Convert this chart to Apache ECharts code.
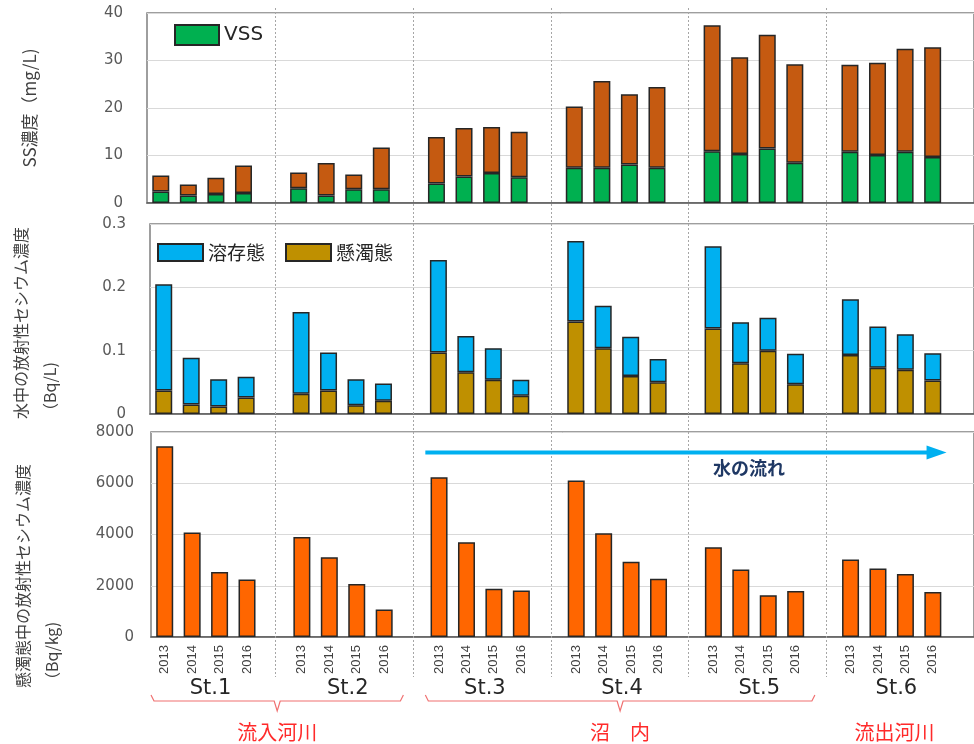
<!DOCTYPE html>
<html>
<head>
<meta charset="utf-8">
<script src="https://cdn.jsdelivr.net/npm/echarts@6/dist/echarts.min.js"></script>
<style>
html, body { margin: 0; padding: 0; background: #fff; }
#chart { width: 974px; height: 744px; }
</style>
</head>
<body>
<div id="chart"></div>
<script>
const STATIONS = ['St.1', 'St.2', 'St.3', 'St.4', 'St.5', 'St.6'];
const YEARS = ['2013', '2014', '2015', '2016'];

// SS濃度 (mg/L): 全体 と VSS
const SS_TOTAL = [
    [5.8, 3.9, 5.3, 7.9],
    [6.4, 8.4, 6.0, 11.7],
    [13.9, 15.8, 16.0, 15.0],
    [20.3, 25.7, 22.9, 24.4],
    [37.4, 30.7, 35.4, 29.2],
    [29.1, 29.5, 32.5, 32.8]
];
const VSS = [
    [2.4, 1.6, 1.9, 2.1],
    [3.1, 1.6, 2.9, 2.9],
    [4.1, 5.6, 6.3, 5.4],
    [7.4, 7.4, 8.1, 7.4],
    [10.9, 10.3, 11.5, 8.5],
    [10.8, 10.1, 10.8, 9.7]
];

// 水中の放射性セシウム濃度 (Bq/L): 合計 と 懸濁態
const WATER_TOTAL = [
    [0.205, 0.089, 0.055, 0.059],
    [0.161, 0.097, 0.055, 0.048],
    [0.243, 0.123, 0.104, 0.054],
    [0.273, 0.171, 0.122, 0.087],
    [0.265, 0.145, 0.152, 0.095],
    [0.181, 0.138, 0.126, 0.096]
];
const WATER_SUSP = [
    [0.037, 0.015, 0.012, 0.026],
    [0.032, 0.037, 0.014, 0.021],
    [0.097, 0.066, 0.054, 0.029],
    [0.146, 0.104, 0.060, 0.050],
    [0.135, 0.080, 0.100, 0.047],
    [0.093, 0.073, 0.070, 0.053]
];

// 懸濁態中の放射性セシウム濃度 (Bq/kg)
const SUSP_CS = [
    [7440, 4080, 2540, 2240],
    [3900, 3110, 2070, 1070],
    [6230, 3700, 1880, 1810],
    [6110, 4050, 2940, 2270],
    [3500, 2630, 1630, 1800],
    [3020, 2670, 2460, 1760]
];

const REGIONS = ['流入河川', '沼　内', '流出河川'];
const REGION_STATIONS = [[0, 1], [2, 4], [5, 5]];

// 4年 + 空き1枠 を1測点として並べる
const flatten = (rows) => {
    let out = [];
    rows.forEach((r) => { out = out.concat(r, ['-']); });
    return out;
};
const yearCats = flatten(STATIONS.map(() => YEARS)).map((v) => (v === '-' ? '' : v));
const ssRest = SS_TOTAL.map((r, i) => r.map((v, j) => +(v - VSS[i][j]).toFixed(2)));
const waterDiss = WATER_TOTAL.map((r, i) => r.map((v, j) => +(v - WATER_SUSP[i][j]).toFixed(3)));

const TICK_FONT = { fontFamily: 'DejaVu Sans', fontSize: 15, color: '#595959' };
const CJK = 'Noto Sans CJK JP';
const BAR_BORDER = { borderColor: '#262626', borderWidth: 1.5 };

const grids = [
    { left: 147, right: -1, top: 13, height: 190 },
    { left: 150, right: -3, top: 224, height: 190 },
    { left: 151, right: -8, top: 432, height: 205 }
].map((g) => Object.assign(g, { show: true, borderColor: '#7f7f7f', borderWidth: 1.5 }));

const baseX = (gridIndex) => ({
    type: 'category',
    gridIndex: gridIndex,
    data: yearCats,
    axisLine: { lineStyle: { color: '#595959', width: 1.5 } },
    axisTick: { show: false },
    axisLabel: { show: false }
});

const baseY = (gridIndex, max, interval, margin) => ({
    type: 'value',
    gridIndex: gridIndex,
    min: 0,
    max: max,
    interval: interval,
    axisLine: { show: false },
    axisTick: { show: false },
    splitLine: { lineStyle: { color: '#d9d9d9', width: 1 } },
    axisLabel: Object.assign({ margin: margin, formatter: (v) => String(v) }, TICK_FONT)
});

const bottomX = baseX(2);
bottomX.axisLabel = {
    show: true, interval: 0, rotate: 90, margin: 8,
    fontFamily: 'Liberation Sans', fontSize: 13, color: '#404040'
};

const option = {
    animation: false,
    backgroundColor: '#fff',
    grid: grids,
    legend: [
        {
            data: ['VSS'], left: 174, top: 24, padding: 0, icon: 'rect',
            itemWidth: 44, itemHeight: 20, selectedMode: false,
            textStyle: { fontFamily: 'DejaVu Sans', fontSize: 20, color: '#262626' }
        },
        {
            data: ['溶存態', '懸濁態'], left: 157, top: 243, padding: 0, icon: 'rect',
            itemWidth: 45, itemHeight: 17, itemGap: 20, selectedMode: false,
            textStyle: { fontFamily: CJK, fontSize: 19, color: '#262626' }
        }
    ],
    xAxis: [
        baseX(0),
        baseX(1),
        bottomX,
        {
            type: 'category', gridIndex: 2, data: STATIONS, position: 'bottom', offset: 36,
            axisLine: { show: false }, axisTick: { show: false },
            axisLabel: { margin: 5, fontFamily: 'DejaVu Sans', fontSize: 21, color: '#262626', padding: [0, 18, 0, 0] }
        }
    ],
    yAxis: [
        baseY(0, 40, 10, 24),
        baseY(1, 0.3, 0.1, 24),
        baseY(2, 8000, 2000, 17)
    ],
    series: [
        {
            name: 'VSS', type: 'bar', stack: 'ss', xAxisIndex: 0, yAxisIndex: 0, barWidth: 17,
            itemStyle: Object.assign({ color: '#00b050' }, BAR_BORDER), data: flatten(VSS)
        },
        {
            name: 'SS', type: 'bar', stack: 'ss', xAxisIndex: 0, yAxisIndex: 0, barWidth: 17,
            itemStyle: Object.assign({ color: '#c55a11' }, BAR_BORDER), data: flatten(ssRest)
        },
        {
            name: '懸濁態', type: 'bar', stack: 'w', xAxisIndex: 1, yAxisIndex: 1, barWidth: 17,
            itemStyle: Object.assign({ color: '#bf9000' }, BAR_BORDER), data: flatten(WATER_SUSP)
        },
        {
            name: '溶存態', type: 'bar', stack: 'w', xAxisIndex: 1, yAxisIndex: 1, barWidth: 17,
            itemStyle: Object.assign({ color: '#00b0f0' }, BAR_BORDER), data: flatten(waterDiss)
        },
        {
            name: '懸濁態中', type: 'bar', xAxisIndex: 2, yAxisIndex: 2, barWidth: 17,
            itemStyle: Object.assign({ color: '#ff6600' }, BAR_BORDER), data: flatten(SUSP_CS)
        }
    ]
};

const chart = echarts.init(document.getElementById('chart'));
chart.setOption(option);

// 枠位置 (カテゴリ枠単位) からピクセルへ
const slotX = (axisIndex, s) => {
    const c0 = chart.convertToPixel({ xAxisIndex: axisIndex }, 0);
    const c1 = chart.convertToPixel({ xAxisIndex: axisIndex }, 1);
    const step = c1 - c0;
    return c0 - step / 2 + s * step;
};
const valY = (axisIndex, v) => chart.convertToPixel({ yAxisIndex: axisIndex }, v);

const graphics = [];

// 測点の区切り (点線)
for (let i = 1; i < STATIONS.length; i++) {
    const x = Math.round(slotX(0, i * 5 - 0.36)) + 0.5;
    graphics.push({
        type: 'line', z: 1, silent: true,
        shape: { x1: x, y1: 8, x2: x, y2: 677 },
        style: { stroke: '#a6a6a6', lineWidth: 1, lineDash: [2, 2] }
    });
}

// 縦軸タイトル
graphics.push({
    type: 'text', x: 30, y: (valY(0, 0) + valY(0, 40)) / 2, rotation: Math.PI / 2,
    style: { text: 'SS濃度（mg/L)', fontFamily: CJK, fontSize: 17, fill: '#404040', align: 'center', verticalAlign: 'middle' }
});
graphics.push({
    type: 'text', x: 6.5, y: 419, rotation: Math.PI / 2,
    style: { text: '水中の放射性セシウム濃度\n（Bq/L)', fontFamily: CJK, fontSize: 16, lineHeight: 29, fill: '#404040', align: 'left', verticalAlign: 'top' }
});
graphics.push({
    type: 'text', x: 8.5, y: 688, rotation: Math.PI / 2,
    style: { text: '懸濁態中の放射性セシウム濃度\n（Bq/kg)', fontFamily: CJK, fontSize: 16, lineHeight: 29, fill: '#404040', align: 'left', verticalAlign: 'top' }
});

// 水の流れ (矢印)
const ay = valY(2, 7200);
const ax1 = slotX(2, 10);
const ax2 = slotX(2, 29);
graphics.push({
    type: 'line', z: 5, silent: true,
    shape: { x1: ax1, y1: ay, x2: ax2 - 18, y2: ay },
    style: { stroke: '#00b0f0', lineWidth: 4 }
});
graphics.push({
    type: 'polygon', z: 5, silent: true,
    shape: { points: [[ax2 - 20, ay - 7], [ax2, ay], [ax2 - 20, ay + 7]] },
    style: { fill: '#00b0f0' }
});
graphics.push({
    type: 'text', z: 5, x: slotX(2, 21.8), y: valY(2, 6600),
    style: { text: '水の流れ', fontFamily: CJK, fontSize: 18, fontWeight: 'bold', fill: '#1f3864', align: 'center', verticalAlign: 'middle' }
});

// 区分の括弧とラベル
REGIONS.forEach((name, i) => {
    const [a, b] = REGION_STATIONS[i];
    const x1 = slotX(2, a * 5);
    const x2 = slotX(2, b * 5 + 4.2);
    const cx = (x1 + x2) / 2;
    if (b > a) {
        graphics.push({
            type: 'polyline', silent: true,
            shape: { points: [[x1, 695], [x1 + 3, 701], [cx - 3, 701], [cx, 711], [cx + 3, 701], [x2 - 3, 701], [x2, 695]] },
            style: { stroke: '#f07070', lineWidth: 1.2, fill: null }
        });
    }
    graphics.push({
        type: 'text', x: cx, y: 732,
        style: { text: name, fontFamily: CJK, fontSize: 20, fill: '#ff2a2a', align: 'center', verticalAlign: 'middle' }
    });
});

chart.setOption({ graphic: graphics });
</script>
</body>
</html>
